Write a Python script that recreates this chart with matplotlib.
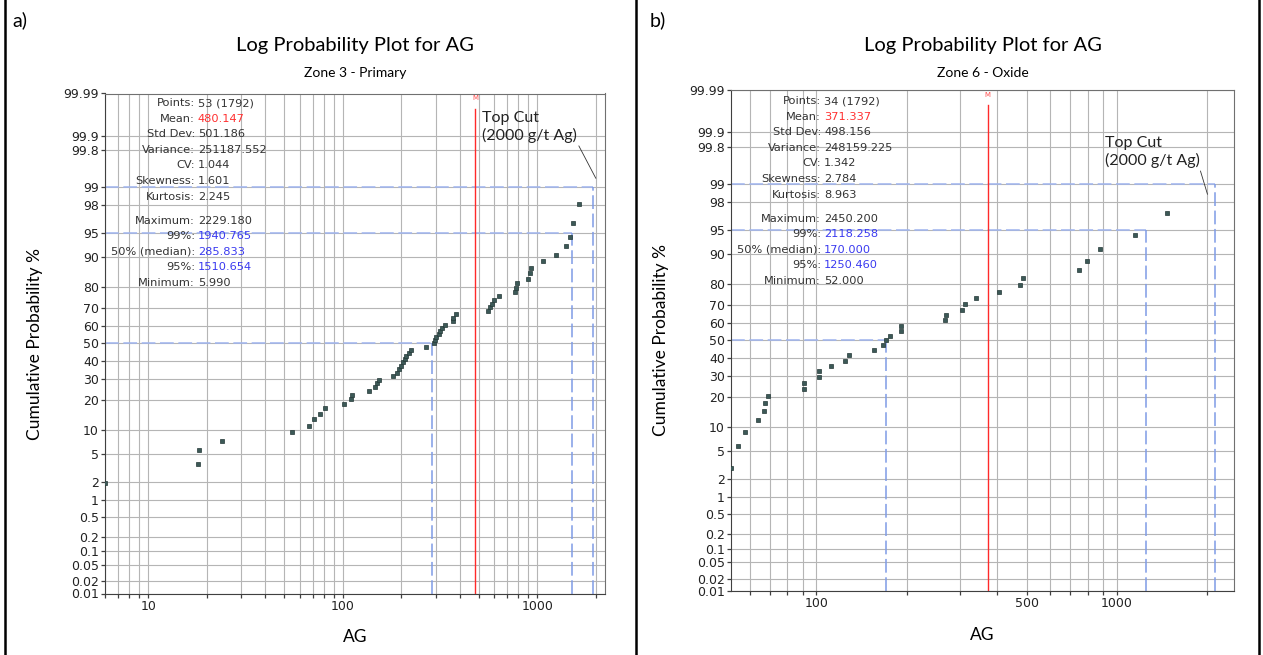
import numpy as np
import matplotlib
matplotlib.use("Agg")
import matplotlib.pyplot as plt
from matplotlib.lines import Line2D
from statistics import NormalDist

# ---- data ----
zone3_ag = [5.99, 18.0, 18.3, 23.9, 54.6, 66.7, 71.0, 76.5, 80.9, 101, 110, 111,
            136, 147, 149.5, 154, 181, 190, 195, 200, 204, 208, 212, 219, 225,
            268, 296, 298, 303, 314, 317, 324, 337, 368, 369, 380, 561, 572, 585,
            597, 634, 769, 780, 785, 899, 918, 929, 1064, 1247, 1409, 1466, 1518, 1648]
zone3_cum = [1.9, 3.7, 5.6, 7.4, 9.3, 11.1, 13.0, 14.8, 16.7, 18.5, 20.4, 22.2,
             24.1, 25.9, 27.8, 29.6, 31.5, 33.3, 35.2, 37.0, 38.9, 40.7, 42.6, 44.4, 46.3,
             48.1, 50.0, 51.9, 53.7, 55.6, 57.4, 59.3, 61.1, 63.0, 64.8, 66.7, 68.5, 70.4, 72.2,
             74.1, 75.9, 77.8, 79.6, 81.5, 83.3, 85.2, 87.0, 88.9, 90.7, 92.6, 94.4, 96.3, 98.1]

zone6_ag = [52.0, 55, 58, 64.1, 67.0, 67.3, 69.0, 90.7, 90.7, 101.8, 101.8, 112,
            124.7, 128.5, 156, 166.8, 170, 176, 191.4, 191.4, 267, 270, 305, 313,
            339, 404, 475, 488, 748, 796, 875, 1146, 1465]
zone6_cum = [2.9, 5.9, 8.8, 11.8, 14.7, 17.6, 20.6, 23.5, 26.5, 29.4, 32.4, 35.3,
             38.2, 41.2, 44.1, 47.1, 50.0, 52.9, 55.9, 58.8, 61.8, 64.7, 67.6, 70.6,
             73.5, 76.5, 79.4, 82.4, 85.3, 88.2, 91.2, 94.1, 97.1]

stat_names = ["Points", "Mean", "Std Dev", "Variance", "CV", "Skewness", "Kurtosis",
              "Maximum", "99%", "50% (median)", "95%", "Minimum"]
zone3_stats = ["53 (1792)", "480.147", "501.186", "251187.552", "1.044", "1.601", "2.245",
               "2229.180", "1940.765", "285.833", "1510.654", "5.990"]
zone6_stats = ["34 (1792)", "371.337", "498.156", "248159.225", "1.342", "2.784", "8.963",
               "2450.200", "2118.258", "170.000", "1250.460", "52.000"]

top_cut = 2000
prob_ticks = [0.01, 0.02, 0.05, 0.1, 0.2, 0.5, 1, 2, 5, 10, 20, 30, 40, 50,
              60, 70, 80, 90, 95, 98, 99, 99.8, 99.9, 99.99]
prob_labels = ["0.01", "0.02", "0.05", "0.1", "0.2", "0.5", "1", "2", "5", "10", "20", "30",
               "40", "50", "60", "70", "80", "90", "95", "98", "99", "99.8", "99.9", "99.99"]

# ---- probability (normal) scale ----
_nd = NormalDist()
_ppf = np.vectorize(lambda p: _nd.inv_cdf(min(max(p / 100.0, 1e-9), 1 - 1e-9)), otypes=[float])
_cdf = np.vectorize(lambda z: 100.0 * _nd.cdf(z), otypes=[float])


def fwd(p):
    return _ppf(np.asarray(p, dtype=float))


def inv(z):
    return _cdf(np.asarray(z, dtype=float))


W, H = 1263, 655
fig = plt.figure(figsize=(W / 100, H / 100), dpi=100)

label_font = "Lato"
grid_col = "#b5b5b5"
blue_h = "#9fb4ef"
blue_v = "#7f9be6"


def log_grid(lo, hi):
    vals = []
    for dec in [1, 10, 100, 1000]:
        for m in range(1, 10):
            v = m * dec
            if lo <= v <= hi:
                vals.append(v)
    return vals


panels = [
    dict(box=(105, 93.5, 605, 593.5), ag=zone3_ag, cum=zone3_cum, stats=zone3_stats,
         sub="Zone 3 - Primary", xlabels={10: "10", 100: "100", 1000: "1000"},
         tag="a)", tag_x=12, cut_txt=(0.755, 0.965), cut_y=99.3),
    dict(box=(731, 90, 1234, 591), ag=zone6_ag, cum=zone6_cum, stats=zone6_stats,
         sub="Zone 6 - Oxide", xlabels={100: "100", 500: "500", 1000: "1000"},
         tag="b)", tag_x=650, cut_txt=(0.743, 0.908), cut_y=98.5),
]

for P in panels:
    x0, y0, x1, y1 = P["box"]
    ax = fig.add_axes([x0 / W, 1 - y1 / H, (x1 - x0) / W, (y1 - y0) / H])
    st = P["stats"]
    vmean, vmax, p99, p50, p95, vmin = [float(st[i]) for i in (1, 7, 8, 9, 10, 11)]

    ax.set_xscale("log")
    ax.set_yscale("function", functions=(fwd, inv))
    ax.set_xlim(vmin, vmax)
    ax.set_ylim(0.01, 99.99)

    xt = log_grid(vmin, vmax)
    ax.set_xticks(xt)
    ax.set_xticklabels([P["xlabels"].get(v, "") for v in xt])
    ax.xaxis.set_minor_locator(matplotlib.ticker.NullLocator())
    ax.set_yticks(prob_ticks)
    ax.set_yticklabels(prob_labels)
    ax.yaxis.set_minor_locator(matplotlib.ticker.NullLocator())
    ax.grid(True, color=grid_col, lw=0.8, zorder=0)
    ax.tick_params(direction="out", length=3, width=0.9, color="#404040",
                   labelsize=9, pad=1.5, labelcolor="#222222")

    for s in ["left", "bottom"]:
        ax.spines[s].set_color("#404040")
    for s in ["top", "right"]:
        ax.spines[s].set_color("#707070")

    # reference percentile lines
    dash = (0, (9, 3))
    for pv, pp in [(p99, 99), (p95, 95), (p50, 50)]:
        ax.plot([vmin, pv], [pp, pp], color=blue_h, lw=1.1, ls=dash, zorder=2)
        ax.plot([pv, pv], [0.01, pp], color=blue_v, lw=1.1, ls=dash, zorder=2)

    # mean line
    ax.axvline(vmean, ymin=0, ymax=0.97, color="#ff2a2a", lw=1, zorder=2)
    ax.text(vmean, 0.99, "M", color="#ff5050", fontsize=5, ha="center", va="center",
            transform=ax.get_xaxis_transform())

    # samples
    ax.plot(P["ag"], P["cum"], ls="none", marker="s", ms=2.6, mfc="#3c5957",
            mec="#243836", mew=0.5, zorder=3, clip_on=True)

    # top cut note
    ax.annotate("Top Cut\n(2000 g/t Ag)", xy=(top_cut, P["cut_y"]),
                xytext=P["cut_txt"], textcoords="axes fraction",
                ha="left", va="top", fontsize=11.5, family=label_font, color="#222222",
                linespacing=1.25,
                arrowprops=dict(arrowstyle="-", color="#333333", lw=0.6,
                                relpos=(1, 0), shrinkA=0, shrinkB=0))

    # stats block
    top_px = y0 + 9.5 if P["tag"] == "a)" else y0 + 11
    step = 15.6
    for i, (nm, val) in enumerate(zip(stat_names, st)):
        ypx = top_px + i * step + (8.5 if i >= 7 else 0)
        yf = (y1 - ypx) / (y1 - y0)
        col = "#333333"
        if nm == "Mean":
            col = "#ff3030"
        elif "%" in nm:
            col = "#3a3af0"
        ax.text(0.18 if P["tag"] == "a)" else 0.179, yf, nm + ":", ha="right", va="center",
                fontsize=8.2, color="#333333", transform=ax.transAxes, zorder=4)
        ax.text(0.186 if P["tag"] == "a)" else 0.185, yf, val, ha="left", va="center",
                fontsize=8.2, color=col, transform=ax.transAxes, zorder=4)

    # titles and labels
    ax.text(0.5, (y1 - 46) / (y1 - y0), "Log Probability Plot for AG", ha="center",
            va="center", fontsize=14.5, family=label_font, transform=ax.transAxes)
    ax.text(0.5, (y1 - 73) / (y1 - y0), P["sub"], ha="center", va="center",
            fontsize=10, family=label_font, transform=ax.transAxes)
    ax.set_ylabel("Cumulative Probability %", fontsize=12.5, family=label_font, va="center")
    ax.yaxis.set_label_coords(-0.14, 0.5)
    ax.set_xlabel("AG", fontsize=12.5, family=label_font, va="center")
    ax.xaxis.set_label_coords(0.5, -0.087)

    fig.text(P["tag_x"] / W, 1 - 20 / H, P["tag"], fontsize=14, family=label_font,
             ha="left", va="center")

# outer table frame
for xp in [5, 636, 1259]:
    fig.add_artist(Line2D([xp / W, xp / W], [0, 1], color="black", lw=1.8,
                          transform=fig.transFigure))

fig.savefig("out.png", dpi=100)
